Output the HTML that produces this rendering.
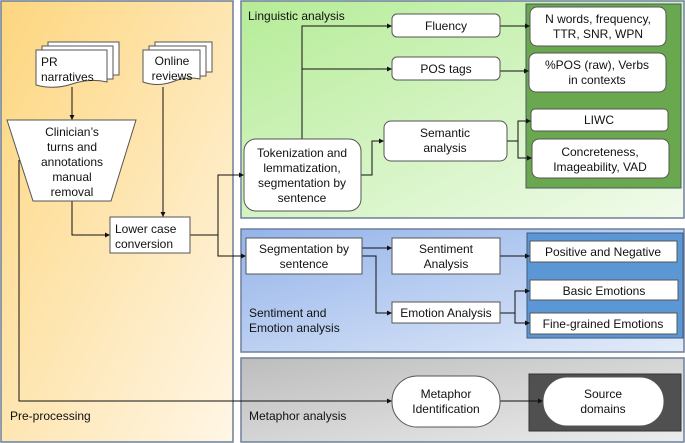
<!DOCTYPE html>
<html><head><meta charset="utf-8"><style>
html,body{margin:0;padding:0;background:#fff}
svg{display:block}
text{font-family:"Liberation Sans",Arial,sans-serif;font-size:12px;fill:#111}
</style></head><body>
<svg width="685" height="443" viewBox="0 0 685 443" xmlns="http://www.w3.org/2000/svg">
<defs>
<linearGradient id="go" x1="0" y1="0" x2="1" y2="1"><stop offset="0" stop-color="#fdd67e"/><stop offset="1" stop-color="#fff6e6"/></linearGradient>
<linearGradient id="gg" x1="0" y1="0" x2="1" y2="1"><stop offset="0" stop-color="#b5ec97"/><stop offset="1" stop-color="#f1fbeb"/></linearGradient>
<linearGradient id="gb" x1="0" y1="0" x2="1" y2="1"><stop offset="0" stop-color="#94b4ea"/><stop offset="1" stop-color="#e3ebf9"/></linearGradient>
<linearGradient id="gy" x1="0" y1="0" x2="1" y2="1"><stop offset="0" stop-color="#bdbdbd"/><stop offset="1" stop-color="#ececec"/></linearGradient>
<marker id="a" markerWidth="6" markerHeight="6" refX="5" refY="3" orient="auto"><path d="M0,0.5 L5,3 L0,5.5z" fill="#111"/></marker>
</defs>
<rect x="1" y="1" width="232" height="441" fill="url(#go)" stroke="#6f7f99" stroke-width="1.5"/>
<rect x="241" y="1" width="443" height="217" fill="url(#gg)" stroke="#6f7f99" stroke-width="1.5"/>
<rect x="241" y="229" width="443" height="123" fill="url(#gb)" stroke="#6f7f99" stroke-width="1.5"/>
<rect x="241" y="358" width="443" height="84" fill="url(#gy)" stroke="#6f7f99" stroke-width="1.5"/>
<rect x="526" y="4" width="155" height="184" fill="#6aa84f" stroke="#4a5a60"/>
<rect x="527" y="233" width="156" height="105" fill="#5b97d5" stroke="#3d5a80"/>
<rect x="529" y="374" width="152" height="57" fill="#505050" stroke="#333"/>

<g fill="none" stroke="#111" stroke-width="1">
<path d="M72,87 V120" marker-end="url(#a)"/>
<path d="M163,87 V217" marker-end="url(#a)"/>
<path d="M72,201 V235 H110" marker-end="url(#a)"/>
<path d="M190,235 H218 V175 H244" marker-end="url(#a)"/>
<path d="M218,235 V256 H246" marker-end="url(#a)"/>
<path d="M19,160 V401 H392" marker-end="url(#a)"/>
<path d="M302,139 V26 H392" marker-end="url(#a)"/>
<path d="M302,69 H392" marker-end="url(#a)"/>
<path d="M361,175 H372 V141 H384" marker-end="url(#a)"/>
<path d="M500,26 H530" marker-end="url(#a)"/>
<path d="M500,71 H529" marker-end="url(#a)"/>
<path d="M507,141 H518 V121 H531" marker-end="url(#a)"/>
<path d="M518,141 V158 H532" marker-end="url(#a)"/>
<path d="M362,248 H392" marker-end="url(#a)"/>
<path d="M362,256 H376 V313 H392" marker-end="url(#a)"/>
<path d="M500,256 H530" marker-end="url(#a)"/>
<path d="M500,313 H515 V291 H530" marker-end="url(#a)"/>
<path d="M515,313 V323 H530" marker-end="url(#a)"/>
<path d="M500,401 H543" marker-end="url(#a)"/>
</g>

<g fill="#fff" stroke="#555" stroke-width="1">
<!-- doc stacks -->
<path d="M48,42 H119 V75 H48z"/><path d="M42,46 H113 V79 H42z"/>
<path d="M36,50 H107 V82 Q90,78 72,84 Q54,90 36,85z"/>
<path d="M155,42 H212 V72 H155z"/><path d="M149,46 H206 V76 H149z"/>
<path d="M143,50 H200 V79 Q186,76 172,82 Q157,87 143,82z"/>
<path d="M7,120 H136 L111,201 H33z"/>
<rect x="110" y="217" width="80" height="36"/>
<rect x="392" y="14" width="108" height="23" rx="5"/>
<rect x="392" y="57" width="108" height="23" rx="5"/>
<rect x="384" y="121" width="123" height="40" rx="7"/>
<rect x="244" y="139" width="117" height="72" rx="12"/>
<rect x="530" y="7" width="136" height="39" rx="7"/>
<rect x="529" y="53" width="137" height="39" rx="7"/>
<rect x="531" y="109" width="137" height="22" rx="4"/>
<rect x="532" y="139" width="137" height="39" rx="7"/>
<rect x="246" y="238" width="116" height="36"/>
<rect x="392" y="238" width="108" height="36"/>
<rect x="392" y="302" width="108" height="21"/>
<rect x="530" y="241" width="147" height="21"/>
<rect x="530" y="280" width="148" height="20"/>
<rect x="530" y="313" width="147" height="21"/>
<rect x="392" y="376" width="108" height="51" rx="25"/>
<rect x="543" y="377" width="121" height="49" rx="24"/>
</g>

<text x="41" y="66">PR</text><text x="41" y="81">narratives</text>
<text x="172" y="65" text-anchor="middle">Online</text><text x="172" y="80" text-anchor="middle">reviews</text>
<g text-anchor="middle">
<text x="72" y="136">Clinician’s</text><text x="72" y="151">turns and</text><text x="72" y="166">annotations</text><text x="72" y="181">manual</text><text x="72" y="196">removal</text>
<text x="446" y="30">Fluency</text>
<text x="446" y="73">POS tags</text>
<text x="445" y="137">Semantic</text><text x="445" y="152">analysis</text>
<text x="302" y="157">Tokenization and</text><text x="302" y="172">lemmatization,</text><text x="302" y="187">segmentation by</text><text x="302" y="202">sentence</text>
<text x="598" y="23">N words, frequency,</text><text x="598" y="38">TTR, SNR, WPN</text>
<text x="597" y="69">%POS (raw), Verbs</text><text x="597" y="84">in contexts</text>
<text x="599" y="124">LIWC</text>
<text x="600" y="156">Concreteness,</text><text x="600" y="171">Imageability, VAD</text>
<text x="304" y="253">Segmentation by</text><text x="304" y="268">sentence</text>
<text x="446" y="253">Sentiment</text><text x="446" y="268">Analysis</text>
<text x="446" y="317">Emotion Analysis</text>
<text x="603" y="256">Positive and Negative</text>
<text x="604" y="295">Basic Emotions</text>
<text x="603" y="328">Fine-grained Emotions</text>
<text x="446" y="398">Metaphor</text><text x="446" y="413">Identification</text>
<text x="603" y="398">Source</text><text x="603" y="413">domains</text>
</g>
<text x="115" y="233">Lower case</text><text x="115" y="248">conversion</text>
<text x="248" y="20">Linguistic analysis</text>
<text x="249" y="317">Sentiment and</text><text x="249" y="332">Emotion analysis</text>
<text x="249" y="420">Metaphor analysis</text>
<text x="10" y="420">Pre-processing</text>
</svg>
</body></html>
